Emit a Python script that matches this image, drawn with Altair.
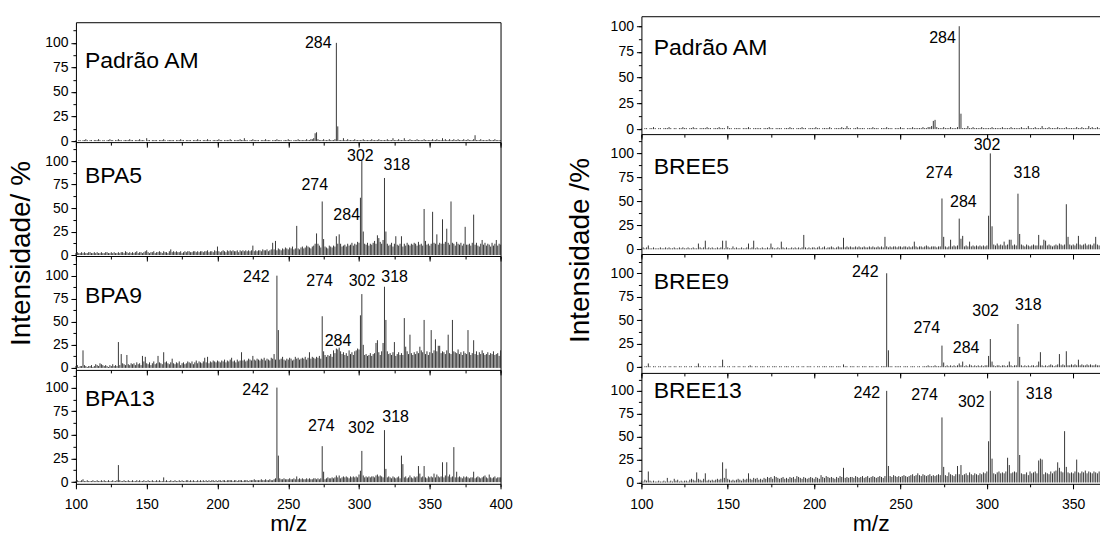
import altair as alt
import pandas as pd

FONT = "Liberation Sans"
BAR_COLOR = "#383838"
MZ0 = 100  # first m/z of every intensity list (one value per unit m/z)

# ---------------- spectra (relative intensity, %, m/z 100, 101, ...) ----------------
padrao_am = [
    1, 0, 1, 1, 0, 1, 1, 2, 1, 0,
    1, 1, 0, 1, 1, 1, 2, 1, 0, 1,
    1, 0, 1, 1, 2, 1, 1, 0, 1, 1,
    2, 1, 1, 0, 1, 1, 1, 1, 2, 1,
    1, 0, 1, 1, 1, 2, 1, 1, 1, 0,
    3, 1, 1, 0, 1, 1, 1, 1, 0, 1,
    1, 1, 2, 1, 0, 1, 1, 1, 1, 1,
    0, 1, 1, 1, 2, 1, 1, 0, 1, 1,
    1, 1, 0, 1, 1, 1, 2, 1, 1, 0,
    1, 1, 1, 2, 1, 1, 0, 1, 1, 1,
    1, 2, 1, 1, 0, 1, 1, 1, 1, 2,
    1, 0, 1, 1, 1, 1, 2, 1, 1, 3,
    1, 1, 0, 1, 1, 2, 1, 1, 1, 1,
    0, 1, 1, 1, 2, 1, 1, 1, 0, 1,
    1, 1, 2, 1, 1, 1, 0, 1, 1, 1,
    2, 1, 1, 0, 1, 1, 1, 2, 1, 1,
    1, 1, 1, 2, 1, 1, 2, 2, 3, 8,
    9, 2, 1, 1, 1, 2, 1, 1, 1, 2,
    1, 1, 1, 2, 100, 15, 1, 1, 1, 3,
    1, 1, 2, 1, 1, 1, 1, 2, 1, 1,
    1, 1, 1, 2, 1, 1, 1, 1, 1, 2,
    1, 1, 1, 1, 2, 1, 1, 1, 1, 1,
    2, 1, 1, 1, 3, 1, 1, 1, 2, 1,
    1, 1, 3, 1, 1, 1, 2, 1, 1, 1,
    1, 2, 1, 1, 1, 1, 2, 1, 1, 1,
    1, 1, 2, 1, 1, 2, 1, 1, 1, 3,
    1, 2, 1, 1, 2, 1, 1, 2, 1, 1,
    2, 1, 1, 1, 2, 1, 1, 2, 1, 1,
    1, 2, 6, 1, 1, 1, 2, 1, 1, 1,
    1, 1, 2, 1, 1, 1, 2, 1, 1, 1,
    1,
]

bpa5 = [
    2, 3, 2, 2, 3, 2, 3, 2, 2, 3,
    3, 2, 2, 3, 2, 3, 2, 2, 3, 2,
    2, 3, 3, 2, 2, 3, 2, 3, 2, 2,
    3, 2, 3, 3, 2, 4, 3, 2, 3, 2,
    3, 2, 3, 4, 2, 3, 3, 2, 3, 4,
    5, 3, 2, 3, 3, 4, 2, 3, 3, 4,
    3, 2, 4, 3, 3, 2, 4, 6, 3, 4,
    3, 4, 3, 3, 4, 2, 3, 4, 3, 4,
    4, 3, 3, 4, 4, 3, 4, 3, 4, 4,
    3, 4, 4, 5, 3, 4, 4, 3, 5, 4,
    9, 4, 3, 4, 5, 4, 3, 5, 4, 5,
    4, 5, 4, 4, 5, 3, 5, 4, 5, 4,
    5, 4, 5, 4, 5, 10, 4, 5, 4, 5,
    5, 4, 6, 5, 5, 6, 4, 5, 6, 13,
    6, 15, 5, 7, 6, 5, 7, 6, 8, 7,
    6, 8, 7, 9, 6, 7, 31, 7, 6, 8,
    9, 7, 8, 10, 9, 8, 7, 9, 10, 12,
    23, 12, 10, 8, 57, 17, 9, 8, 7, 10,
    9, 8, 10, 9, 20, 12, 22, 12, 9, 10,
    11, 9, 12, 10, 11, 13, 10, 12, 11, 14,
    13, 61, 100, 25, 12, 11, 13, 10, 12, 11,
    13, 15, 12, 21, 18, 14, 12, 16, 82, 25,
    12, 10, 11, 13, 9, 12, 20, 11, 10, 12,
    20, 9, 12, 10, 13, 11, 10, 12, 11, 13,
    12, 10, 14, 11, 12, 10, 49, 15, 11, 12,
    10, 12, 46, 13, 12, 22, 11, 13, 12, 38,
    12, 14, 28, 13, 11, 57, 13, 12, 10, 14,
    12, 11, 13, 10, 12, 30, 11, 11, 12, 10,
    13, 43, 11, 13, 10, 9, 12, 16, 11, 13,
    10, 12, 11, 9, 13, 10, 12, 16, 10, 12,
    11,
]

bpa9 = [
    2, 3, 1, 2, 2, 19, 3, 2, 1, 2,
    2, 3, 1, 2, 4, 3, 2, 5, 4, 3,
    2, 3, 2, 1, 3, 2, 4, 2, 3, 2,
    28, 3, 15, 5, 4, 3, 14, 4, 3, 5,
    4, 5, 3, 6, 4, 5, 3, 13, 7, 12,
    5, 4, 6, 3, 5, 7, 4, 5, 13, 6,
    5, 4, 17, 6, 7, 5, 4, 6, 10, 5,
    4, 6, 5, 7, 3, 5, 6, 4, 5, 7,
    6, 5, 7, 4, 6, 8, 5, 7, 6, 5,
    7, 11, 6, 12, 5, 7, 6, 8, 7, 6,
    8, 7, 6, 8, 7, 9, 6, 8, 7, 9,
    11, 7, 8, 6, 9, 7, 8, 17, 8, 9,
    7, 8, 10, 9, 8, 13, 9, 8, 10, 9,
    8, 10, 9, 11, 8, 10, 9, 8, 11, 10,
    15, 9, 100, 41, 9, 10, 12, 9, 8, 10,
    9, 11, 10, 8, 9, 12, 10, 11, 9, 10,
    11, 10, 12, 9, 11, 17, 10, 12, 11, 10,
    12, 11, 13, 10, 56, 18, 14, 12, 14, 13,
    15, 12, 19, 16, 21, 20, 22, 18, 15, 17,
    14, 16, 13, 19, 15, 17, 14, 18, 19, 21,
    20, 57, 80, 25, 14, 15, 13, 14, 16, 13,
    15, 16, 27, 30, 17, 14, 18, 27, 88, 52,
    18, 15, 16, 14, 17, 28, 13, 15, 17, 14,
    16, 14, 54, 23, 18, 15, 36, 16, 14, 17,
    15, 18, 16, 23, 19, 17, 52, 15, 18, 14,
    17, 41, 16, 19, 31, 18, 24, 24, 16, 18,
    17, 15, 19, 36, 16, 15, 52, 18, 17, 16,
    20, 15, 17, 14, 18, 16, 15, 41, 17, 14,
    16, 30, 15, 18, 14, 17, 15, 19, 16, 14,
    15, 17, 14, 16, 15, 18, 14, 15, 16, 13,
    19,
]

bpa13 = [
    1, 2, 1, 1, 2, 3, 1, 1, 2, 1,
    1, 1, 2, 1, 1, 2, 1, 1, 2, 1,
    2, 1, 1, 2, 1, 1, 2, 1, 1, 2,
    18, 2, 1, 1, 2, 1, 1, 2, 1, 1,
    2, 1, 1, 2, 1, 2, 1, 1, 2, 1,
    1, 2, 1, 1, 2, 1, 1, 2, 1, 2,
    1, 1, 5, 1, 2, 1, 1, 2, 1, 1,
    2, 1, 1, 2, 1, 2, 1, 1, 2, 2,
    1, 2, 1, 2, 1, 1, 2, 1, 2, 1,
    2, 1, 2, 1, 2, 1, 2, 2, 1, 2,
    1, 2, 2, 1, 2, 2, 1, 2, 2, 2,
    2, 1, 2, 2, 1, 2, 2, 2, 1, 2,
    2, 2, 1, 2, 2, 2, 3, 2, 2, 2,
    2, 3, 2, 2, 3, 2, 2, 3, 2, 2,
    3, 4, 100, 28, 4, 3, 3, 4, 3, 3,
    3, 4, 3, 3, 4, 3, 6, 3, 4, 3,
    4, 3, 3, 4, 3, 4, 3, 3, 4, 4,
    3, 4, 3, 4, 38, 11, 3, 4, 5, 4,
    4, 5, 4, 5, 7, 5, 7, 4, 5, 6,
    5, 6, 5, 4, 6, 5, 6, 5, 6, 5,
    8, 12, 33, 7, 5, 6, 5, 6, 5, 6,
    6, 5, 7, 8, 6, 7, 6, 5, 55, 14,
    5, 6, 5, 4, 6, 5, 4, 5, 6, 4,
    28, 19, 5, 6, 4, 5, 7, 5, 4, 6,
    5, 6, 17, 9, 5, 6, 17, 5, 4, 6,
    5, 6, 5, 9, 5, 8, 6, 5, 6, 21,
    5, 7, 21, 6, 8, 5, 6, 37, 5, 11,
    5, 6, 5, 4, 6, 5, 6, 5, 4, 5,
    5, 11, 4, 5, 6, 5, 4, 5, 6, 7,
    5, 4, 8, 5, 4, 5, 6, 4, 5, 5,
    5,
]

bree5 = [
    1, 2, 1, 2, 4, 1, 1, 2, 1, 1,
    1, 2, 1, 1, 2, 1, 2, 1, 1, 2,
    1, 1, 2, 1, 2, 1, 1, 2, 1, 1,
    2, 1, 1, 6, 2, 1, 2, 9, 1, 2,
    1, 2, 1, 1, 2, 1, 2, 9, 1, 9,
    2, 1, 1, 3, 1, 2, 1, 1, 2, 1,
    1, 2, 6, 1, 2, 9, 1, 2, 1, 1,
    2, 1, 1, 2, 1, 6, 2, 1, 1, 2,
    1, 8, 2, 1, 2, 1, 1, 2, 1, 2,
    1, 2, 1, 2, 15, 2, 1, 2, 1, 2,
    2, 1, 2, 3, 1, 2, 3, 1, 2, 2,
    3, 2, 1, 2, 3, 2, 2, 12, 2, 3,
    2, 3, 2, 2, 3, 2, 3, 2, 2, 3,
    2, 2, 3, 2, 3, 2, 2, 3, 2, 3,
    2, 13, 3, 2, 3, 2, 3, 3, 2, 3,
    3, 2, 3, 3, 2, 3, 2, 3, 8, 3,
    2, 3, 3, 2, 3, 4, 3, 2, 3, 3,
    3, 2, 3, 3, 53, 13, 3, 2, 3, 10,
    3, 4, 3, 4, 32, 11, 14, 3, 4, 3,
    8, 3, 4, 3, 4, 3, 4, 3, 4, 3,
    4, 35, 100, 24, 5, 4, 6, 4, 5, 4,
    8, 4, 5, 10, 10, 4, 5, 4, 58, 16,
    5, 4, 3, 5, 4, 3, 4, 5, 4, 4,
    15, 4, 4, 10, 9, 4, 5, 4, 3, 4,
    5, 4, 6, 5, 4, 5, 47, 13, 5, 4,
    5, 4, 6, 14, 5, 4, 5, 6, 4, 5,
    5, 4, 6, 13, 5, 4,
]

bree9 = [
    1, 0, 1, 1, 4, 1, 0, 1, 1, 0,
    1, 1, 0, 1, 1, 0, 1, 1, 0, 1,
    1, 0, 1, 1, 0, 1, 1, 0, 1, 1,
    0, 1, 1, 4, 1, 0, 1, 1, 0, 1,
    1, 0, 1, 1, 0, 1, 1, 8, 1, 0,
    1, 1, 0, 1, 1, 0, 1, 1, 0, 1,
    1, 0, 1, 2, 1, 0, 1, 1, 0, 1,
    1, 1, 0, 1, 1, 0, 1, 1, 1, 0,
    1, 1, 0, 1, 1, 1, 0, 1, 1, 0,
    1, 1, 0, 1, 1, 0, 1, 1, 1, 0,
    1, 0, 1, 1, 0, 1, 1, 1, 0, 1,
    1, 1, 0, 1, 1, 1, 0, 3, 1, 1,
    0, 1, 1, 1, 0, 1, 1, 0, 1, 1,
    1, 0, 1, 1, 1, 0, 1, 1, 0, 1,
    1, 1, 100, 18, 1, 1, 0, 1, 1, 1,
    1, 0, 1, 1, 1, 0, 1, 1, 1, 0,
    1, 1, 0, 1, 1, 1, 2, 1, 1, 1,
    2, 1, 1, 1, 23, 5, 1, 2, 1, 2,
    1, 2, 1, 2, 4, 2, 6, 1, 2, 1,
    3, 2, 1, 2, 1, 2, 1, 2, 1, 2,
    2, 12, 30, 6, 2, 1, 2, 2, 1, 2,
    2, 1, 2, 6, 2, 1, 2, 2, 46, 11,
    2, 1, 2, 1, 2, 1, 2, 2, 1, 2,
    6, 16, 2, 1, 2, 1, 2, 3, 2, 1,
    2, 3, 14, 2, 3, 2, 17, 2, 2, 3,
    2, 3, 2, 8, 2, 3, 2, 2, 3, 2,
    3, 2, 2, 3, 2, 2,
]

bree13 = [
    2, 1, 3, 2, 12, 2, 1, 2, 1, 1,
    2, 1, 1, 2, 1, 5, 1, 2, 1, 4,
    2, 3, 1, 2, 1, 2, 2, 1, 3, 4,
    3, 2, 11, 4, 3, 2, 4, 10, 2, 3,
    2, 3, 2, 3, 4, 3, 4, 22, 5, 15,
    4, 3, 2, 3, 2, 3, 4, 3, 2, 4,
    3, 4, 10, 4, 3, 5, 4, 5, 3, 4,
    3, 5, 4, 6, 5, 6, 4, 7, 6, 5,
    4, 5, 6, 4, 5, 4, 6, 5, 6, 4,
    7, 6, 5, 4, 6, 5, 4, 5, 6, 5,
    4, 6, 5, 4, 8, 6, 5, 7, 6, 5,
    6, 5, 4, 6, 5, 7, 6, 16, 5, 6,
    5, 6, 6, 5, 7, 6, 5, 6, 7, 5,
    6, 7, 5, 6, 7, 6, 5, 6, 7, 6,
    5, 7, 100, 18, 7, 6, 8, 7, 6, 7,
    6, 7, 8, 7, 6, 7, 8, 9, 7, 8,
    10, 8, 7, 9, 8, 7, 8, 9, 7, 8,
    7, 8, 9, 8, 71, 17, 8, 7, 11, 9,
    8, 7, 9, 18, 9, 19, 8, 9, 10, 8,
    11, 9, 8, 10, 9, 8, 10, 9, 11, 10,
    12, 45, 100, 26, 10, 9, 11, 12, 10, 11,
    10, 12, 27, 19, 10, 11, 12, 11, 111, 30,
    10, 9, 9, 11, 8, 12, 10, 11, 12, 10,
    24, 26, 25, 9, 11, 10, 9, 12, 10, 12,
    13, 22, 16, 12, 11, 56, 17, 11, 10, 11,
    10, 12, 25, 11, 10, 12, 11, 13, 10, 12,
    11, 10, 12, 11, 10, 12,
]

# ---------------- text annotations ----------------
left_names = ["Padrão AM", "BPA5", "BPA9", "BPA13"]
left_name_mz = 106.4
left_name_int = [74, 77, 70, 80]
right_names = ["Padrão AM", "BREE5", "BREE9", "BREE13"]
right_name_mz = 107.1
right_name_int = [72, 79, 83, 92]

# (label, m/z of label centre, intensity of label baseline)
left_peak_labels = [
    [("284", 271.2, 94.6)],
    [("274", 268.7, 69), ("284", 291.3, 37), ("302", 301.0, 100), ("318", 326.8, 90.4)],
    [("242", 227.5, 93.5), ("274", 272.2, 88.8), ("284", 285.2, 24), ("302", 302.1, 88.8),
     ("318", 325.2, 93.5)],
    [("242", 227.0, 92.3), ("274", 273.4, 54.5), ("302", 301.7, 51.8), ("318", 325.9, 64)],
]
right_peak_labels = [
    [("284", 274.3, 83.8)],
    [("274", 272.4, 74), ("284", 286.4, 44.4), ("302", 300.1, 104), ("318", 323.2, 74)],
    [("242", 229.6, 96.4), ("274", 265.2, 36), ("284", 288.0, 15), ("302", 299.3, 54),
     ("318", 324.0, 61)],
    [("242", 230.5, 92), ("274", 264.0, 90), ("302", 291.0, 82), ("318", 330.2, 91)],
]

X_MAJOR = [100, 150, 200, 250, 300, 350, 400]
X_MINOR = [100, 125, 150, 175, 200, 225, 250, 275, 300, 325, 350, 375, 400]
Y_MAJOR = [0, 25, 50, 75, 100]
Y_MINOR = [0, 12.5, 25, 37.5, 50, 62.5, 75, 87.5, 100, 112.5]

AX = dict(grid=False, tickColor="black", domainColor="black", labelColor="black",
          titleColor="black", tickWidth=1, domainWidth=1)


def x_major(xmax, bottom):
    kw = dict(AX, values=[v for v in X_MAJOR if v <= xmax], tickSize=5, domain=True,
              orient="bottom", labels=bottom)
    if bottom:
        kw.update(labelFontSize=14, labelPadding=9, labelOverlap=False, labelFlush=False,
                  titleFontSize=23, titleFontWeight="normal", titleY=47,
                  titleBaseline="alphabetic")
    return alt.Axis(**kw)


def y_major(ydom, title, tx, ty):
    kw = dict(AX, values=[v for v in Y_MAJOR if ydom[0] <= v <= ydom[1]], tickSize=5,
              labelFontSize=14, labelPadding=3, labelOverlap=False, domain=True, orient="left")
    if title:
        kw.update(titleFontSize=28, titleFontWeight="normal", titleX=tx, titleY=ty,
                  titleAngle=270, titleAlign="center", titleBaseline="middle")
    return alt.Axis(**kw)


def x_minor(xmax):
    return alt.Axis(**dict(AX, values=[v for v in X_MINOR if v <= xmax], tickSize=3,
                           labels=False, domain=False, orient="bottom"))


def y_minor(ydom):
    return alt.Axis(**dict(AX, values=[v for v in Y_MINOR if ydom[0] <= v <= ydom[1]],
                           tickSize=3, labels=False, domain=False, orient="left"))


def panel(values, name, name_mz, name_int, labels, xmax, width, height, ydom,
          bottom=False, ytitle=None, tx=0, ty=0, top_border=False, right_border=False):
    df = pd.DataFrame({"mz": [MZ0 + k for k in range(len(values))], "i": values})
    df = df[df["mz"] <= xmax]
    xsc = alt.Scale(domain=[100, xmax], nice=False, zero=False)
    ysc = alt.Scale(domain=list(ydom), nice=False, zero=False)

    bars = alt.Chart(df).mark_rule(color=BAR_COLOR, strokeWidth=1).encode(
        x=alt.X("mz:Q", scale=xsc, axis=x_major(xmax, bottom), title="m/z" if bottom else None),
        y=alt.Y("i:Q", scale=ysc, axis=y_major(ydom, ytitle, tx, ty), title=ytitle),
        y2=alt.datum(0),
    )

    ndf = pd.DataFrame({"mz": [name_mz], "i": [name_int], "t": [name]})
    names = alt.Chart(ndf).mark_text(align="left", baseline="alphabetic", fontSize=23,
                                     color="black").encode(
        x=alt.X("mz:Q", scale=xsc, axis=x_minor(xmax), title=None),
        y=alt.Y("i:Q", scale=ysc, axis=y_minor(ydom), title=None),
        text="t:N",
    )

    pdf = pd.DataFrame({"mz": [l[1] for l in labels], "i": [l[2] for l in labels],
                        "t": [l[0] for l in labels]})
    xa = (alt.Axis(orient="top", labels=False, ticks=False, domain=True, domainColor="black",
                   grid=False) if top_border else None)
    ya = (alt.Axis(orient="right", labels=False, ticks=False, domain=True, domainColor="black",
                   grid=False) if right_border else None)
    peaks = alt.Chart(pdf).mark_text(align="center", baseline="alphabetic", fontSize=16,
                                     color="black").encode(
        x=alt.X("mz:Q", scale=xsc, axis=xa, title=None),
        y=alt.Y("i:Q", scale=ysc, axis=ya, title=None),
        text="t:N",
    )
    return (alt.layer(bars, names, peaks)
            .resolve_axis(x="independent", y="independent")
            .properties(width=width, height=height))


# ---------------- left group ----------------
L_W, L_XMAX = 425, 400
left_specs = [
    (padrao_am, 120, (-1.0, 121.0)),
    (bpa5, 114, (-1.06, 120.2)),
    (bpa9, 114, (-2.17, 121.3)),
    (bpa13, 114, (-1.8, 118.7)),
]
left_panels = []
for k, (vals, h, yd) in enumerate(left_specs):
    left_panels.append(panel(
        vals, left_names[k], left_name_mz, left_name_int[k], left_peak_labels[k],
        L_XMAX, L_W, h, yd, bottom=(k == 3),
        ytitle="Intensidade/ %" if k == 1 else None, tx=-54, ty=111,
        top_border=(k == 0), right_border=True))

spacer = alt.Chart(pd.DataFrame({"a": [0]})).mark_point(opacity=0).encode(
    x=alt.value(0), y=alt.value(3)).properties(width=L_W, height=6)

# ---------------- right group ----------------
R_W, R_XMAX = 459, 365.5
right_specs = [
    (padrao_am, 118, (-4.85, 109.7)),
    (bree5, 120, (-4.9, 120.1)),
    (bree9, 119, (-6.06, 120.5)),
    (bree13, 111, (-1.45, 119.6)),
]
right_panels = []
for k, (vals, h, yd) in enumerate(right_specs):
    right_panels.append(panel(
        vals, right_names[k], right_name_mz, right_name_int[k], right_peak_labels[k],
        R_XMAX, R_W, h, yd, bottom=(k == 3),
        ytitle="Intensidade /%" if k == 1 else None, tx=-61, ty=116,
        top_border=(k == 0), right_border=False))

left = alt.vconcat(spacer, *left_panels, spacing=0, bounds="flush")
right = alt.vconcat(*right_panels, spacing=0, bounds="flush")

chart = (alt.hconcat(left, right, spacing=54)
         .properties(padding={"left": 8, "top": 16, "right": 0, "bottom": 0})
         .configure(font=FONT)
         .configure_view(stroke=None))

chart.save("out.html", embed_options={"renderer": "svg", "actions": False})
